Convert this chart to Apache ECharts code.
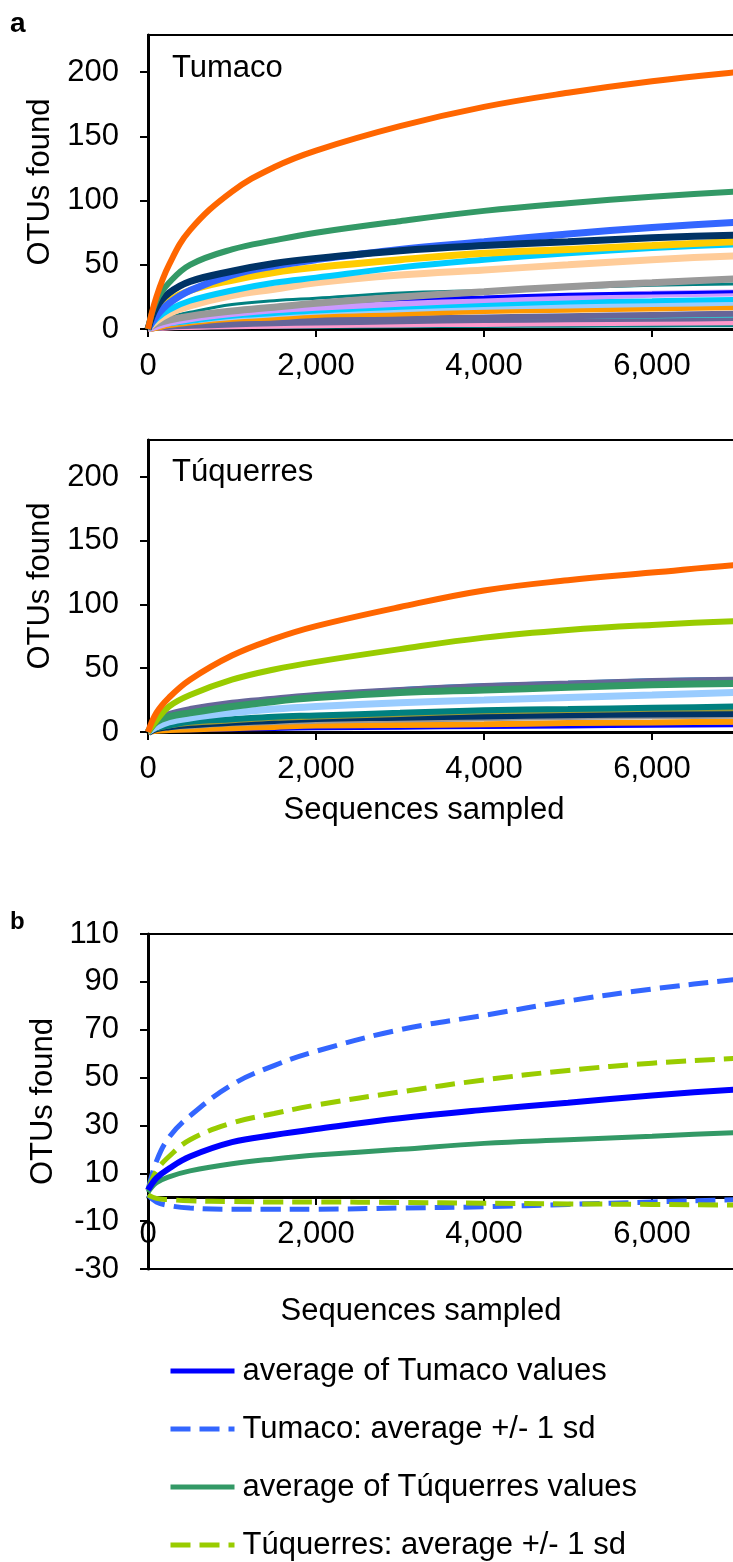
<!DOCTYPE html>
<html>
<head>
<meta charset="utf-8">
<script src="https://cdn.jsdelivr.net/npm/echarts@6/dist/echarts.min.js"></script>
<style>
html,body{margin:0;padding:0;background:#fff;}
#c{width:733px;height:1562px;}
</style>
</head>
<body>
<div id="c"></div>
<script>
// ---- data ----
const xs = [0, 100, 250, 500, 1000, 1500, 2000, 3000, 4000, 5000, 6000, 7000, 8000];
const xTicks = [0, 2000, 4000, 6000, 8000];
const yTicksA = [0, 50, 100, 150, 200];
const yTicksB = [-30, -10, 10, 30, 50, 70, 90, 110];

// Tumaco samples
const tumOrange   = [0, 25, 50, 77, 107, 126, 139, 158, 173, 184, 193, 200, 206];
const tumGreen    = [0, 22, 36, 50, 62, 69, 75, 84, 92, 98, 103, 107, 110];
const tumBlue     = [0, 10, 20, 30, 42, 49, 54, 62, 68, 74, 79, 83, 86];
const tumNavy     = [0, 17, 28, 37, 45, 51, 55, 61, 65, 68, 71, 73, 74];
const tumYellow   = [0, 13, 22, 30, 38, 44, 48, 54, 59, 62, 65, 68, 70];
const tumCyan     = [0, 8, 15, 22, 30, 36, 40, 48, 54, 59, 63, 66, 68];
const tumPeach    = [0, 6, 12, 18, 26, 31, 36, 42, 46, 50, 54, 57, 59];
const tumGray     = [0, 4, 7, 10, 14, 17, 20, 25, 29, 33, 36, 39, 41];
const tumTeal     = [0, 5, 9, 13, 19, 22, 24, 28, 30, 32, 34, 35, 36];
const tumBlue2    = [0, 3, 6, 9, 14, 18, 20, 23, 25, 27, 28, 29, 30];
const tumLavender = [0, 2, 5, 8, 12, 15, 17, 20, 23, 25, 27, 28, 29];
const tumCyan2    = [0, 2, 4, 6, 10, 12, 14, 17, 19, 21, 22, 23, 24];
const tumLightBlue= [0, 2, 4, 6, 9, 11, 13, 15, 17, 18, 19, 20, 21];
const tumOrange2  = [0, 1, 3, 5, 8, 9, 11, 12, 14, 15, 16, 17, 18];
const tumSlate    = [0, 1, 2, 3, 5, 6, 7, 8, 9, 10, 11, 12, 13];
const tumTeal2    = [0, 1, 2, 3, 4, 5, 6, 7, 8, 8.5, 9, 9.5, 10];
const tumSlate2   = [0, 1, 2, 2.5, 3.5, 4.5, 5, 6, 7, 7.5, 8, 8.5, 9];
const tumPink     = [0, 0.5, 1, 1.5, 2.5, 3, 3.5, 4.5, 5, 5.5, 6, 6.5, 7];
const tumPink2    = [0, 0.5, 1, 1.2, 1.8, 2.2, 2.6, 3.2, 3.6, 4, 4.4, 4.8, 5];
const tumTeal3    = [0, 0.2, 0.4, 0.6, 1, 1.2, 1.4, 1.7, 2, 2.2, 2.4, 2.6, 2.8];

// Túquerres samples
const tuqOrange   = [0, 15, 27, 41, 60, 73, 83, 98, 111, 119, 125, 131, 135];
const tuqLime     = [0, 9, 20, 29, 41, 49, 55, 65, 74, 80, 84, 87, 89];
const tuqCyan     = [0, 9, 14, 18, 23, 26, 29, 34, 37, 39, 41, 42, 43];
const tuqSlate    = [0, 9, 14, 18, 23, 26, 29, 33, 36, 38, 40, 41, 42];
const tuqGreen    = [0, 8, 12, 15, 20, 24, 27, 31, 33, 35, 37, 38, 39];
const tuqLightBlue= [0, 4, 8, 11, 15, 18, 20, 23, 25, 27, 29, 31, 32];
const tuqTeal     = [0, 3, 5, 8, 10, 12, 13, 15, 17, 18, 19, 20, 21];
const tuqOlive    = [0, 2, 4, 6, 8, 10, 11, 13, 15, 16, 17, 17.5, 18];
const tuqNavy     = [0, 3, 4.5, 6, 8, 9.5, 11, 12, 13, 14, 14.5, 15, 15.5];
const tuqGray     = [0, 2, 3, 4, 6, 7, 8, 9, 10, 11, 11.5, 12, 12.5];
const tuqOrange2  = [0, 1, 1.5, 2, 3, 4, 5, 5.5, 6, 7, 7.5, 8, 8.5];
const tuqBlue     = [0, 0.5, 0.8, 1, 1.5, 2, 2.5, 3, 3.5, 4, 4.5, 5, 5.5];

// Panel b: averages and +/- 1 sd
const avgTumaco   = [3, 8, 12, 17, 23, 26, 28.5, 33, 36.5, 39.5, 42.5, 45, 47];
const tumUpper    = [3, 15, 25, 34, 47, 55, 61, 70, 76, 82, 87, 91, 95];
const tumLower    = [1, -2, -3.5, -4.5, -5, -5, -5, -4.5, -4, -3, -2, -1, 0];
const avgTuquerres= [2, 6, 8.5, 11, 14, 16, 17.6, 20, 22.5, 24, 25.5, 27, 28];
const tuqUpper    = [3, 11, 17, 24, 31, 35, 38.5, 44, 49, 53, 56, 58, 60];
const tuqLower    = [1, -0.5, -1, -1.5, -1.8, -2, -2, -2.2, -2.5, -2.8, -3, -3.3, -3.5];

const legendNames = ['average of Tumaco values', 'Tumaco: average +/- 1 sd',
                     'average of Túquerres values', 'Túquerres: average +/- 1 sd'];

// ---- styles ----
const FONT = "'Liberation Sans', Arial, sans-serif";
const pairs = vals => vals.map((v, i) => [xs[i], v]);
const fmt = v => String(v).replace(/\B(?=(\d{3})+(?!\d))/g, ',');

const tumSeries = [
  [tumTeal3, '#008080', 3], [tumPink2, '#FF99CC', 5], [tumPink, '#FF99CC', 5],
  [tumSlate2, '#666699', 6], [tumTeal2, '#33CCCC', 2], [tumSlate, '#666699', 6],
  [tumOrange2, '#FF9900', 6], [tumLightBlue, '#99CCFF', 5], [tumCyan2, '#00CCFF', 5],
  [tumLavender, '#CC99FF', 7], [tumBlue2, '#0000FF', 3], [tumTeal, '#008080', 3],
  [tumGray, '#999999', 7], [tumPeach, '#FFCC99', 7], [tumCyan, '#00CCFF', 6],
  [tumYellow, '#FFCC00', 7], [tumBlue, '#3366FF', 7], [tumNavy, '#003366', 7],
  [tumGreen, '#339966', 6], [tumOrange, '#FF6600', 6]
];
const tuqSeries = [
  [tuqBlue, '#0000FF', 3], [tuqOrange2, '#FF9900', 6], [tuqGray, '#999999', 4],
  [tuqNavy, '#003366', 8], [tuqOlive, '#999933', 3], [tuqTeal, '#008080', 6],
  [tuqLightBlue, '#99CCFF', 7], [tuqCyan, '#00CCFF', 3], [tuqSlate, '#666699', 6],
  [tuqGreen, '#339966', 7], [tuqLime, '#99CC00', 6], [tuqOrange, '#FF6600', 6]
];

const lineBase = { type: 'line', smooth: 0.4, showSymbol: false, symbol: 'none' };
const series = [];
tumSeries.forEach((s, i) => series.push(Object.assign({
  name: 'Tumaco ' + i, xAxisIndex: 0, yAxisIndex: 0, data: pairs(s[0]),
  lineStyle: { color: s[1], width: s[2] }, itemStyle: { color: s[1] }
}, lineBase)));
tuqSeries.forEach((s, i) => series.push(Object.assign({
  name: 'Túquerres ' + i, xAxisIndex: 1, yAxisIndex: 1, data: pairs(s[0]),
  lineStyle: { color: s[1], width: s[2] }, itemStyle: { color: s[1] }
}, lineBase)));
const dash = [20, 9];
const bSeries = [
  [legendNames[1], tumUpper, '#3366FF', 5, dash],
  [legendNames[1], tumLower, '#3366FF', 5, dash],
  [legendNames[3], tuqUpper, '#99CC00', 5, dash],
  [legendNames[3], tuqLower, '#99CC00', 5, dash],
  [legendNames[2], avgTuquerres, '#339966', 5, 'solid'],
  [legendNames[0], avgTumaco, '#0000FF', 6, 'solid']
];
bSeries.forEach(s => series.push(Object.assign({
  name: s[0], xAxisIndex: 2, yAxisIndex: 2, data: pairs(s[1]),
  lineStyle: { color: s[2], width: s[3], type: s[4] }, itemStyle: { color: s[2] }
}, lineBase)));

const gridBase = { left: 148, width: 672, outerBoundsMode: 'none', containLabel: false,
  show: true, borderColor: '#000', borderWidth: 2, backgroundColor: 'transparent' };
const mkX = (idx, offset) => ({
  type: 'value', gridIndex: idx, min: 0, max: 8000, interval: 2000, offset: offset,
  axisLine: { show: true, onZero: false, lineStyle: { color: '#000', width: 3 } },
  axisTick: { show: true, inside: false, length: 8, lineStyle: { color: '#000', width: 2 } },
  axisLabel: { color: '#000', fontSize: 31, fontFamily: FONT, margin: 22, formatter: fmt },
  splitLine: { show: false }
});
const mkY = (idx, min, max, ticks, gap) => ({
  type: 'value', gridIndex: idx, min: min, max: max,
  name: 'OTUs found', nameLocation: 'middle', nameGap: gap,
  nameTextStyle: { color: '#000', fontSize: 31, fontFamily: FONT },
  axisLine: { show: true, onZero: false, lineStyle: { color: '#000', width: 3 } },
  axisTick: { show: true, inside: false, length: 8, customValues: ticks, lineStyle: { color: '#000', width: 2 } },
  axisLabel: { color: '#000', fontSize: 31, fontFamily: FONT, margin: 29, customValues: ticks },
  splitLine: { show: false }
});

const txt = (t, x, y, size, bold, align) => ({
  type: 'text', x: x, y: y, silent: true,
  style: { text: t, fill: '#000', font: (bold ? 'bold ' : '') + size + 'px ' + FONT,
           textAlign: align || 'left', textVerticalAlign: 'middle' }
});

const option = {
  animation: false,
  backgroundColor: '#fff',
  grid: [
    Object.assign({ top: 35, height: 294 }, gridBase),
    Object.assign({ top: 440, height: 292 }, gridBase),
    Object.assign({ top: 934, height: 335 }, gridBase)
  ],
  xAxis: [mkX(0, 0), mkX(1, 0), mkX(2, -72)],
  yAxis: [
    mkY(0, 0, 229, yTicksA, 82),
    mkY(1, 0, 229, yTicksA, 82),
    mkY(2, -30, 110, yTicksB, 82)
  ],
  legend: {
    data: legendNames, orient: 'vertical', left: 168, top: 1355, padding: 0,
    itemWidth: 64, itemHeight: 16, itemGap: 26,
    itemStyle: { opacity: 0 },
    lineStyle: { width: 5 },
    textStyle: { color: '#000', fontSize: 31, lineHeight: 32, fontFamily: FONT, padding: [0, 0, 0, 3] },
    selectedMode: false
  },
  graphic: [
    txt('a', 10, 24, 28, true),
    txt('Tumaco', 172, 68, 31),
    txt('Túquerres', 172, 472, 31),
    txt('Sequences sampled', 424, 810, 31, false, 'center'),
    txt('b', 10, 922, 24, true),
    txt('Sequences sampled', 421, 1311, 31, false, 'center')
  ],
  series: series
};

const chart = echarts.init(document.getElementById('c'), null, { renderer: 'canvas' });
chart.setOption(option);
</script>
</body>
</html>
